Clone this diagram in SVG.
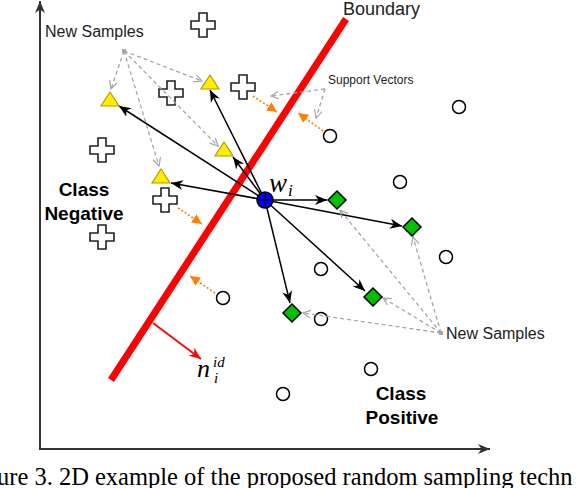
<svg xmlns="http://www.w3.org/2000/svg" xmlns:xlink="http://www.w3.org/1999/xlink" width="578" height="488" viewBox="0 0 578 488">
<style>
.ax{stroke:#333;stroke-width:2;fill:none}
.blk{stroke:#000;stroke-width:1.5;fill:none;marker-end:url(#ab)}
.gry{stroke:#a6a6a6;stroke-width:1.3;fill:none;stroke-dasharray:4 3;marker-end:url(#ag)}
.org{stroke:#ff8000;stroke-width:1.6;fill:none;stroke-dasharray:2 2;marker-end:url(#ao)}
.cross{fill:#fff;stroke:#222;stroke-width:1.6}
.tri{fill:#ffee00;stroke:#b59a00;stroke-width:1.2}
.dia{fill:#00c000;stroke:#000;stroke-width:1.5}
.pos{fill:#fff;stroke:#000;stroke-width:1.5}
.lbl{font-family:"Liberation Sans",Arial,sans-serif;fill:#222}
.cls{font-family:"Liberation Sans",Arial,sans-serif;font-weight:bold;font-size:19px;fill:#000;text-anchor:middle}
.math{font-family:"Liberation Serif","Times New Roman",serif;font-style:italic;fill:#000}
</style>
<defs>
<marker id="ab" markerUnits="userSpaceOnUse" markerWidth="14" markerHeight="12" refX="12" refY="6" orient="auto"><path d="M0,1 L12,6 L0,11 L3.5,6 Z" fill="#000"/></marker>
<marker id="ax" markerUnits="userSpaceOnUse" markerWidth="14" markerHeight="12" refX="12" refY="6" orient="auto"><path d="M0,1 L12,6 L0,11 L3.5,6 Z" fill="#333"/></marker>
<marker id="ag" markerUnits="userSpaceOnUse" markerWidth="10" markerHeight="10" refX="8" refY="4" orient="auto"><path d="M0,0 L8,4 L0,8" fill="none" stroke="#a6a6a6" stroke-width="1.2"/></marker>
<marker id="ao" markerUnits="userSpaceOnUse" markerWidth="12" markerHeight="12" refX="10" refY="5" orient="auto"><path d="M0,0 L10,5 L0,10 Z" fill="#ff8000"/></marker>
<marker id="ar" markerUnits="userSpaceOnUse" markerWidth="14" markerHeight="12" refX="12" refY="6" orient="auto"><path d="M0,1 L12,6 L0,11 L3.5,6 Z" fill="#ff0000"/></marker>
<path id="plus" d="M-4,-12 H4 V-4 H12 V4 H4 V12 H-4 V4 H-12 V-4 H-4 Z"/>
<path id="tri" d="M0,0 L9,14 L-9,14 Z"/>
<path id="dia" d="M0,-9 L9,0 L0,9 L-9,0 Z"/>
</defs>

<g id="axes">
<line class="ax" x1="40" y1="450" x2="40" y2="1" marker-end="url(#ax)"/>
<line class="ax" x1="39" y1="449" x2="490" y2="449" marker-end="url(#ax)"/>
</g>

<g id="boundary">
<line x1="111" y1="380" x2="346" y2="19" stroke="#ff0000" stroke-width="7"/>
<text x="343" y="15" class="lbl" font-size="18" fill="#000">Boundary</text>
</g>

<g id="negatives">
<use xlink:href="#plus" class="cross" x="203" y="25"/>
<use xlink:href="#plus" class="cross" x="171" y="93"/>
<use xlink:href="#plus" class="cross" x="243" y="87"/>
<use xlink:href="#plus" class="cross" x="102" y="150"/>
<use xlink:href="#plus" class="cross" x="165" y="200"/>
<use xlink:href="#plus" class="cross" x="102" y="237"/>
</g>

<g id="positives">
<circle class="pos" cx="459" cy="107" r="6.5"/>
<circle class="pos" cx="330" cy="136" r="6.5"/>
<circle class="pos" cx="400" cy="182" r="6.5"/>
<circle class="pos" cx="321" cy="269" r="6.5"/>
<circle class="pos" cx="446" cy="257" r="6.5"/>
<circle class="pos" cx="321" cy="319" r="6.5"/>
<circle class="pos" cx="371" cy="369" r="6.5"/>
<circle class="pos" cx="223" cy="298" r="6.5"/>
<circle class="pos" cx="283" cy="394" r="6.5"/>
</g>

<g id="connectors">
<line class="blk" x1="265" y1="200" x2="119" y2="106"/>
<line class="blk" x1="265" y1="200" x2="210" y2="90"/>
<line class="blk" x1="265" y1="200" x2="233" y2="157"/>
<line class="blk" x1="265" y1="200" x2="171" y2="183"/>
<line class="blk" x1="265" y1="200" x2="327" y2="200"/>
<line class="blk" x1="265" y1="200" x2="402" y2="226"/>
<line class="blk" x1="265" y1="200" x2="365" y2="291"/>
<line class="blk" x1="265" y1="200" x2="290" y2="303"/>

<line class="gry" x1="124" y1="51" x2="111" y2="89"/>
<line class="gry" x1="124" y1="51" x2="202" y2="81"/>
<line class="gry" x1="124" y1="51" x2="218" y2="146"/>
<line class="gry" x1="124" y1="51" x2="159" y2="166"/>
<line class="gry" x1="441" y1="333" x2="340" y2="210"/>
<line class="gry" x1="441" y1="333" x2="413" y2="237"/>
<line class="gry" x1="441" y1="333" x2="383" y2="298"/>
<line class="gry" x1="441" y1="333" x2="303" y2="313"/>
<line class="gry" x1="325" y1="89" x2="271" y2="96"/>
<line class="gry" x1="325" y1="89" x2="316" y2="118"/>

<line class="org" x1="253" y1="96" x2="277" y2="112"/>
<line class="org" x1="323" y1="131" x2="298" y2="113"/>
<line class="org" x1="178" y1="208" x2="202" y2="224"/>
<line class="org" x1="215" y1="293" x2="190" y2="276"/>

<line x1="153" y1="323" x2="201" y2="359" stroke="#ff0000" stroke-width="1.8" marker-end="url(#ar)"/>
<rect x="122" y="49" width="4" height="4" fill="#a6a6a6"/>
<rect x="439" y="331" width="4" height="4" fill="#a6a6a6"/>
</g>

<g id="new-negative">
<use xlink:href="#tri" class="tri" x="110" y="92"/>
<use xlink:href="#tri" class="tri" x="210" y="75"/>
<use xlink:href="#tri" class="tri" x="224" y="142"/>
<use xlink:href="#tri" class="tri" x="161" y="169"/>
</g>

<g id="new-positive">
<use xlink:href="#dia" class="dia" x="337" y="200"/>
<use xlink:href="#dia" class="dia" x="412" y="227"/>
<use xlink:href="#dia" class="dia" x="373" y="297"/>
<use xlink:href="#dia" class="dia" x="292" y="313"/>
</g>

<g id="wi">
<circle cx="265" cy="200" r="8" fill="#0000ff" stroke="#000" stroke-width="1.5"/>
<line x1="257" y1="200" x2="273" y2="200" stroke="#000" stroke-width="1"/>
<line x1="265" y1="192" x2="265" y2="208" stroke="#000" stroke-width="1"/>
<text x="269" y="192" class="math" font-size="27">w<tspan x="288" y="196" font-size="17">i</tspan></text>
</g>

<g id="labels">
<text x="45" y="37" class="lbl" font-size="16">New Samples</text>
<text x="446" y="339" class="lbl" font-size="16">New Samples</text>
<text x="328" y="84" class="lbl" font-size="12">Support Vectors</text>
<text x="84" y="196" class="cls">Class</text>
<text x="84" y="220" class="cls">Negative</text>
<text x="401" y="400" class="cls">Class</text>
<text x="402" y="424" class="cls">Positive</text>
<text x="197" y="377" class="math" font-size="26">n<tspan x="214" y="383" font-size="15">i</tspan><tspan x="213" y="367" font-size="15">id</tspan></text>
</g>

<text x="-3" y="485" font-family="'Liberation Serif','Times New Roman',serif" font-size="24.5" fill="#000">ure 3. 2D example of the proposed random sampling techn</text>
</svg>
